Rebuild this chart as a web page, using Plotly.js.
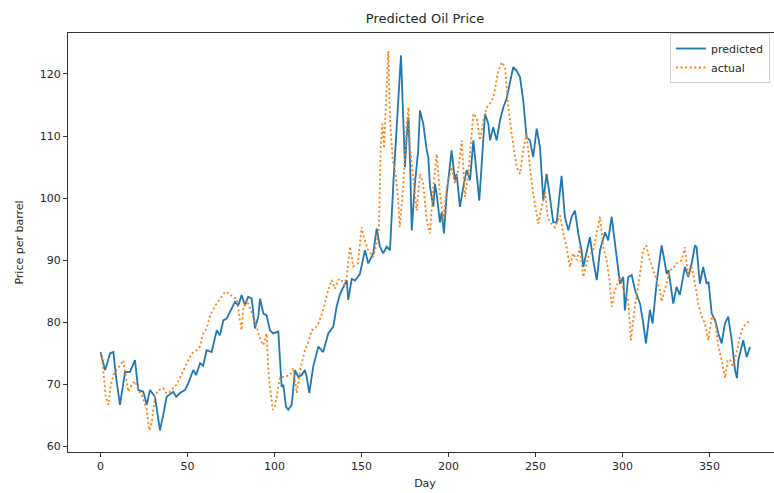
<!DOCTYPE html>
<html>
<head>
<meta charset="utf-8">
<script src="https://cdn.plot.ly/plotly-3.0.1.min.js"></script>
<style>
html,body{margin:0;padding:0;overflow:hidden;background:#fff;}
#chart{width:790px;height:493px;}
</style>
</head>
<body>
<div id="chart"></div>
<script>
// Predicted series (day, price per barrel)
const predDays = [0,1.3,2.6,4,5.5,7.4,9,11.2,12.5,14.1,17,19.8,21.7,24.6,26.6,28.4,31.3,33,34.2,36,38,41.8,43.5,45.7,48.6,50.5,53.3,55,57.2,59,61,63.9,66.8,68.7,70.6,72.5,75.4,77.3,79.2,81.1,83,84.9,86.9,88.8,90.7,91.7,93.6,95.5,97.4,99.3,102.2,103.2,103.7,104.1,105.1,106.6,107.9,109.9,111.8,113.7,115.6,117.5,118.5,120,122.3,125.2,128,130.9,133.8,135.7,137.6,139.5,141.5,142.4,144.4,146.3,149.1,152,153.9,156.8,158.7,160.6,162.5,164.5,166.4,168.3,169.3,171,172.7,174,175,176,177,178,178.9,180.7,182.6,183.6,185.5,187.5,188.4,189.4,191.3,192.2,193.2,195.1,196.1,197.4,199,201.8,203.7,204.7,206.6,208.5,210.5,212.4,214.3,216.2,217.7,219.1,221,222.9,223.9,225.7,227.7,229.6,231.5,233.4,235.3,237.2,239.2,241.1,243,244,244.9,246.8,248.7,250.7,252.6,254.5,256.4,258.3,260.2,262.2,265,266.9,268.9,270.8,272.7,274.6,276.5,277.5,279.4,281.3,283.2,285.2,287.1,290,291.8,293.8,295.7,297.6,298.6,300.5,301.4,303.3,305.3,307.2,310.1,312,313.5,315.8,317.3,319.7,322.5,324.4,325.4,326.5,328.3,329.2,331.1,333,335.9,337.8,339.8,341.7,342.6,344.5,346.4,348.4,349.5,351.3,353.3,355.1,357,358.9,360.8,362.8,364.7,365.8,366.6,369.4,371.4,373.3];
const predPrice = [75.2,73.5,72.3,73.5,75,75.2,71,66.7,69,72,72,73.9,69.1,68.8,66.7,69.1,68,65,62.6,65,68,68.8,68,68.6,69.1,70.2,72.3,71.5,73.4,73,75.5,75.2,78.7,77.9,80.3,80.6,82.2,83.3,82.7,84.4,82.7,84.1,83.8,79,80.9,83.8,81.4,81.1,78.7,78.2,78.5,74.4,72.3,69.6,69.9,66.4,65.9,66.7,72.3,71.2,71.5,72.3,71.2,68.6,72.9,76.1,75.2,78.2,79.3,82.5,84.5,85.7,86.8,83.6,87,86.7,87.8,91.6,89.5,91.1,95.1,92.2,91.1,92.2,91.6,102.3,107.7,115,123,112,105,110,113,105,94.8,102.3,107.7,114.1,112,107.7,106.6,101.8,98.6,102.3,100.7,96.1,97.7,94.3,100.7,107.7,102.9,103.9,98.6,101.8,104.5,102.9,109.3,103.9,99.6,105.5,113.6,112,109.3,111.4,109.3,112.5,114.6,116,118.4,121.1,120.5,119.5,115.7,112,109.8,109.3,106.6,111.2,108.2,99.6,103.9,100.2,96.1,96.1,103.6,97,94.8,97,98,94.3,91.6,88.9,91.1,93.7,90,86.8,91.6,94.5,93.2,97,92.7,87.8,86.2,87.3,81.9,87.3,87.6,85.2,83,79.8,76.6,82,79.8,86.5,92.4,89.5,87.8,88.4,84.6,83,85.7,84.4,88.9,87.3,89.5,92.4,92.1,86.2,88.9,86.2,86.5,81.4,80.3,78.2,76.6,79.8,80.9,77.1,72.3,71,73.9,77.1,74.4,76];

// Actual series (day, price per barrel)
const actualDays = [0,1,2,3,4.5,6,8,10,13,16,18,20,21.7,24,26.6,28,29.5,31.3,33,36,38,40,43.8,47.6,50,52.4,55.3,57,59,61,63,66,68.7,71.6,74.4,76,78.3,80,81.1,82,84,86,88.8,91.7,93.6,95.5,96.4,97.4,99,100.3,101.6,103.2,106,108.9,110.8,112.8,114.7,117.5,119.4,121.4,123.3,125.2,128,130.9,132.9,134.8,136.7,138,140,141.5,143.4,145.3,148,150,151.4,153.9,156.8,158.7,160,161,162,163,164,165.4,166.5,168,169.5,171,172,174,176,177,178,180,181.7,183.6,185.5,187.5,189.4,191.3,193.2,194.1,195.1,197,199,201.8,203.7,205.6,207.6,208.5,209.5,211.4,213.3,214.3,216.2,218.1,220,222,223.9,225.7,227,228.6,230.6,232.5,234.4,236.3,239.2,241.1,243,244.9,246.8,248.7,251.6,253.6,255.5,257,259,261.2,264.1,266,267.9,269.8,271.7,273.7,275.5,277.5,280.3,283.2,285.2,287.1,289,290.9,292.8,293.8,295.5,298.6,300.5,303.3,304.8,307.1,309.9,311.8,313.7,315.7,317,319.7,321.5,322.5,324.4,327.3,329.2,331.1,334,335.9,337.8,339.8,341.7,343.6,345.5,347.4,349.4,351.3,353.3,355.1,357,359,360.5,361.8,363.7,365.5,367.5,369.4,371.4,373.3];
const actualPrice = [75,74,71,68,66.7,70,72,72.5,73.9,68.8,70,70.5,69.1,68,65.9,62.6,64,68,69,69.4,68.5,68.8,70,72.3,73.5,75,75.5,76,78.2,79,81.1,82.7,83.8,84.9,84.6,84,83.8,81,78.7,82.2,83.6,82.2,80.1,77.4,76.3,78.2,72.8,69.6,65.9,66.4,68.6,71.2,71.2,71.5,72.6,68.6,72.3,75.5,76.8,78.7,79,79.8,82,85.2,86.8,85.4,86.8,87,86,87.3,92.2,89,89.5,95.3,93.7,91.6,90.5,92.7,95,108,112,108,115,123.7,112,106,104,100,95.3,102,112,114.6,108,103,98,103.9,102.3,96.4,94.3,101.8,107.1,103.9,100.7,96.4,101.8,105,102.3,104.5,109.3,105,100.2,103.9,110.4,113.6,113,109.3,112.5,114.6,115.2,116.2,118,120.5,121.9,121.1,114.6,110.4,105,103.9,107.7,110.4,105,100.7,95.9,98.6,101,97,95.9,95.3,97.2,94.3,92.1,88.9,91.1,90,92.1,87.3,90.5,91.6,94.3,97,92.1,90,86.2,82.5,85,87.3,85.2,83.6,77.1,82.5,87.3,91.6,92.4,90,89,86.8,85.2,83.3,85.2,88.4,88.7,89.5,90,92.1,87.3,88.9,86.2,83,80.9,79.8,77.1,80.9,80.3,76,73.9,71,74,73.9,72.8,75,77.6,79.3,79.8,80.3];

const xTicks = [0,50,100,150,200,250,300,350];
const yTicks = [60,70,80,90,100,110,120];

const font = {family: 'DejaVu Sans', size: 11, color: '#262626'};

const traces = [
  {x: predDays, y: predPrice, name: 'predicted', type: 'scatter', mode: 'lines',
   line: {color: '#1f77b4', width: 1.8}},
  {x: actualDays, y: actualPrice, name: 'actual', type: 'scatter', mode: 'lines',
   line: {color: '#ff7f0e', width: 1.8, dash: '2px,2.6px'}}
];

const axisCommon = {
  showgrid: false, zeroline: false, showline: true, mirror: true,
  linecolor: '#333', linewidth: 1, ticks: 'outside', ticklen: 4, tickwidth: 1,
  tickcolor: '#333', tickfont: font
};

const layout = {
  width: 790, height: 493,
  margin: {l: 68, r: 8, t: 33, b: 41},
  paper_bgcolor: '#fff', plot_bgcolor: '#fff',
  font: font,
  title: {text: 'Predicted Oil Price', font: {family: 'DejaVu Sans', size: 13, color: '#262626'},
          x: 0.5, xref: 'paper', y: 1 - 18/493, yref: 'container', yanchor: 'middle'},
  xaxis: Object.assign({}, axisCommon, {
    range: [-18.68, 391.7], tickvals: xTicks, ticktext: xTicks.map(String),
    title: {text: 'Day', font: font, standoff: 7}
  }),
  yaxis: Object.assign({}, axisCommon, {
    range: [59.1, 126.6], tickvals: yTicks, ticktext: yTicks.map(String),
    title: {text: 'Price per barrel', font: font, standoff: 13}
  }),
  showlegend: true,
  legend: {x: 0.843, xanchor: 'left', y: 1.0, yanchor: 'top',
           bgcolor: 'rgba(255,255,255,0.85)', bordercolor: '#d0d0d0', borderwidth: 1,
           font: font, tracegroupgap: 0}
};

Plotly.newPlot('chart', traces, layout, {displayModeBar: false, staticPlot: true});
</script>
</body>
</html>
